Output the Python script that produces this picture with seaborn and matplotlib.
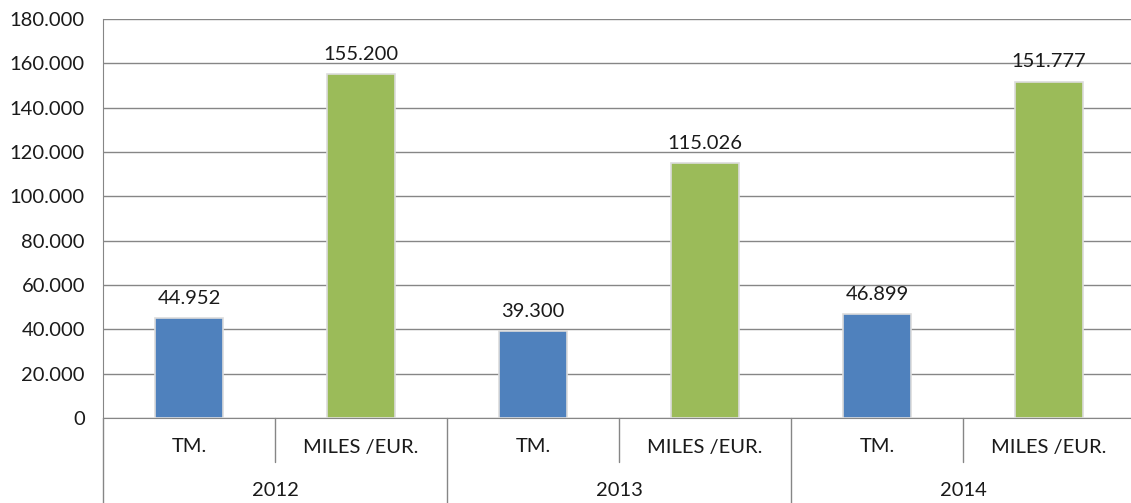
import matplotlib
matplotlib.use('Agg')
import matplotlib.pyplot as plt
import matplotlib.transforms as mtransforms
from matplotlib.ticker import FuncFormatter
import pandas as pd
import seaborn as sns

# Data
years = ['2012', '2013', '2014']
measures = ['TM.', 'MILES /EUR.']
tm_values = [44952, 39300, 46899]
eur_values = [155200, 115026, 151777]

rows = []
for i, year in enumerate(years):
    rows.append({'slot': f'{year} TM.', 'year': year, 'measure': 'TM.', 'value': tm_values[i]})
    rows.append({'slot': f'{year} MILES /EUR.', 'year': year, 'measure': 'MILES /EUR.', 'value': eur_values[i]})
df = pd.DataFrame(rows)

sns.set_style('white')
plt.rcParams['font.family'] = ['Lato', 'DejaVu Sans']

W, H = 1131, 503
fig = plt.figure(figsize=(W / 100, H / 100), dpi=100)
left, right, top, bottom = 103, 1135, 19, 418
ax = fig.add_axes([left / W, (H - bottom) / H, (right - left) / W, (bottom - top) / H])

grid_color = '#868686'
text_color = '#1a1a1a'
fs = 14.5
palette = {'TM.': '#4F81BD', 'MILES /EUR.': '#9BBB59'}

sns.barplot(data=df, x='slot', y='value', hue='measure', palette=palette,
            dodge=False, width=0.4, saturation=1, edgecolor='#dcdcdc', linewidth=1.2,
            legend=False, ax=ax, zorder=3)

ax.set_xlim(-0.5, 5.5)
ax.set_ylim(0, 180000)
ax.set_yticks(range(0, 180001, 20000))
ax.yaxis.set_major_formatter(FuncFormatter(lambda v, p: f'{int(v):,}'.replace(',', '.')))
ax.tick_params(axis='y', length=7, color=grid_color, labelsize=fs, pad=6, labelcolor=text_color)
ax.yaxis.grid(True, color=grid_color, linewidth=1)
ax.set_axisbelow(True)

for s in ['top', 'right']:
    ax.spines[s].set_visible(False)
ax.spines['left'].set_color(grid_color)
ax.spines['bottom'].set_color(grid_color)
ax.spines['left'].set_bounds(0, 180000)

ax.set_xticks([])
ax.set_xlabel('')
ax.set_ylabel('')

# value labels
for container in ax.containers:
    for bar in container:
        h = bar.get_height()
        if h != h or h == 0:
            continue
        ax.annotate(f'{int(h):,}'.replace(',', '.'),
                    (bar.get_x() + bar.get_width() / 2, h),
                    xytext=(0, 8), textcoords='offset points',
                    ha='center', va='bottom', fontsize=fs, color=text_color)

# multi-level category axis
trans = mtransforms.blended_transform_factory(ax.transData, ax.transAxes)
ph = bottom - top
for i, year in enumerate(years):
    for j, m in enumerate(measures):
        ax.text(2 * i + j, -29 / ph, m, transform=trans, ha='center', va='center',
                fontsize=fs, color=text_color)
    ax.text(2 * i + 0.5, -72 / ph, year, transform=trans, ha='center', va='center',
            fontsize=fs, color=text_color)
    # short separator between measures
    ax.plot([2 * i + 0.5, 2 * i + 0.5], [0, -44 / ph], transform=trans,
            color=grid_color, linewidth=1, clip_on=False)
    # long separator between years
    ax.plot([2 * i - 0.5, 2 * i - 0.5], [0, -86 / ph], transform=trans,
            color=grid_color, linewidth=1, clip_on=False)

fig.savefig('out.png', dpi=100)
